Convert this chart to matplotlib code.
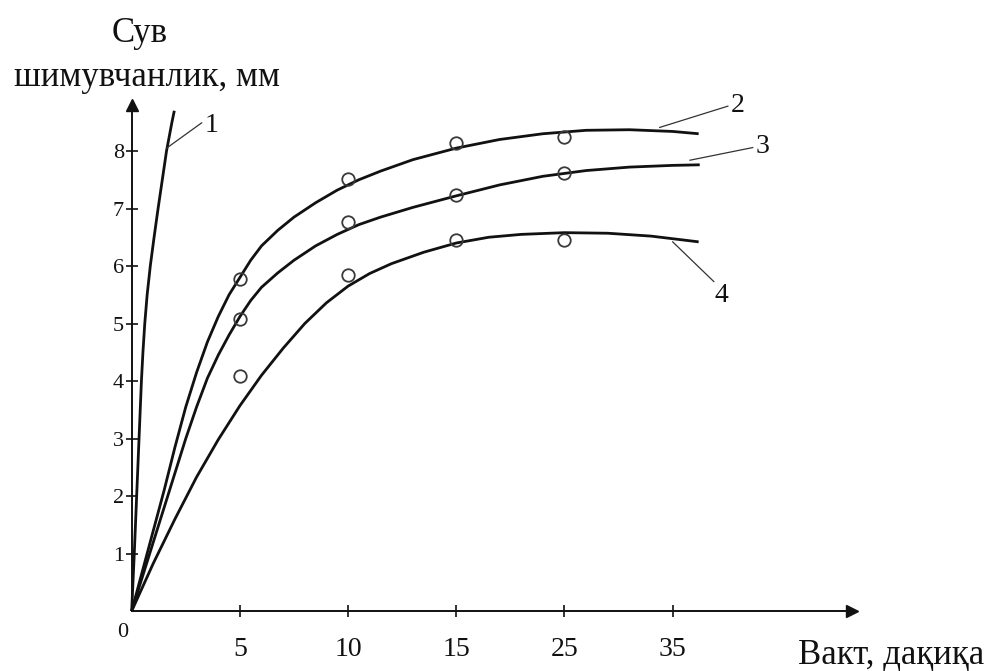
import matplotlib
matplotlib.use('Agg')
import matplotlib.pyplot as plt

plt.rcParams['font.family'] = ['Liberation Serif', 'DejaVu Serif']

# x positions are tick indices (0 = origin), labels are the minutes written under them
x_ticks = [1, 2, 3, 4, 5]
x_labels = ['5', '10', '15', '25', '35']
y_ticks = [1, 2, 3, 4, 5, 6, 7, 8]

# curves
c1_y = [0, 0.5, 1, 1.5, 2, 2.5, 3, 3.5, 4, 4.5, 5, 5.5, 6, 6.5, 7, 7.5, 8, 8.5, 8.7]
c1_x = [0, .012, .024, .035, .046, .057, .068, .079, .09, .104, .121, .143, .172, .207, .244, .283, .322, .372, .394]

c2_x = [0, 0.1, 0.2, 0.3, 0.4, 0.5, 0.6, 0.7, 0.8, 0.9, 1.0, 1.1, 1.2, 1.35, 1.5, 1.7, 1.9,
        2.1, 2.3, 2.6, 3.0, 3.4, 3.8, 4.2, 4.6, 5.0, 5.24]
c2_y = [0, 0.7, 1.4, 2.1, 2.85, 3.55, 4.15, 4.68, 5.12, 5.5, 5.8, 6.1, 6.35, 6.62, 6.85, 7.1, 7.32,
        7.5, 7.65, 7.85, 8.05, 8.2, 8.3, 8.36, 8.37, 8.34, 8.30]

c3_x = [0, 0.1, 0.2, 0.3, 0.4, 0.5, 0.6, 0.7, 0.8, 0.9, 1.0, 1.1, 1.2, 1.35, 1.5, 1.7, 1.9,
        2.1, 2.3, 2.6, 3.0, 3.4, 3.8, 4.2, 4.6, 5.0, 5.25]
c3_y = [0, 0.6, 1.2, 1.8, 2.4, 3.0, 3.55, 4.05, 4.45, 4.8, 5.12, 5.4, 5.63, 5.88, 6.1, 6.35, 6.55,
        6.72, 6.85, 7.02, 7.22, 7.41, 7.56, 7.66, 7.72, 7.75, 7.76]

c4_x = [0, 0.2, 0.4, 0.6, 0.8, 1.0, 1.2, 1.4, 1.6, 1.8, 2.0, 2.2, 2.4, 2.7, 3.0, 3.3, 3.6,
        4.0, 4.4, 4.8, 5.24]
c4_y = [0, 0.83, 1.6, 2.33, 2.98, 3.57, 4.1, 4.57, 5.0, 5.36, 5.65, 5.87, 6.04, 6.24, 6.4, 6.5, 6.55,
        6.58, 6.57, 6.52, 6.42]

# measured points (circles)
pt_x = [1, 2, 3, 4]
pt2 = [5.77, 7.52, 8.14, 8.24]
pt3 = [5.07, 6.77, 7.23, 7.61]
pt4 = [4.09, 5.84, 6.46, 6.45]

ink = '#111111'

fig = plt.figure(figsize=(9.87, 6.71), dpi=100)
ax = fig.add_axes([0, 0, 1, 1])
ax.set_xlim(-1.217, 7.905)
ax.set_ylim(-1.043, 10.626)

# axes through the origin with arrow heads
for s in ['top', 'right']:
    ax.spines[s].set_visible(False)
ax.spines['left'].set_position(('data', 0))
ax.spines['bottom'].set_position(('data', 0))
ax.spines['left'].set_bounds(0, 8.7)
ax.spines['bottom'].set_bounds(0, 6.6)
for s in ['left', 'bottom']:
    ax.spines[s].set_linewidth(1.4)
    ax.spines[s].set_color(ink)
ax.plot([0], [8.8], marker='^', ms=8, color=ink, clip_on=False)
ax.plot([6.66], [0], marker='>', ms=8, color=ink, clip_on=False)

ax.set_xticks(x_ticks, x_labels)
ax.set_yticks(y_ticks, [str(v) for v in y_ticks])
ax.tick_params(axis='x', direction='inout', length=9, width=1.2, colors=ink,
               labelsize=20, pad=14)
ax.tick_params(axis='y', direction='inout', length=9, width=1.2, colors=ink,
               labelsize=16, pad=1)

ax.text(-0.08, -0.38, '0', fontsize=16, ha='center', va='center', color=ink)

for cx, cy in [(c1_x, c1_y), (c2_x, c2_y), (c3_x, c3_y), (c4_x, c4_y)]:
    ax.plot(cx, cy, color=ink, lw=2.0, solid_capstyle='butt', solid_joinstyle='round')

for py in [pt2, pt3, pt4]:
    ax.plot(pt_x, py, ls='none', marker='o', ms=9, mfc='none', mec='#3a3a3a', mew=1.3)

# curve numbers with leader lines
leaders = [((0.323, 8.05), (0.647, 8.49), (0.74, 8.45), '1'),
           ((4.88, 8.41), (5.51, 8.78), (5.60, 8.80), '2'),
           ((5.16, 7.84), (5.74, 8.06), (5.83, 8.08), '3'),
           ((5.00, 6.42), (5.38, 5.73), (5.45, 5.48), '4')]
for (x0, y0), (x1, y1), (tx, ty), lab in leaders:
    ax.plot([x0, x1], [y0, y1], color='#333333', lw=0.9)
    ax.text(tx, ty, lab, fontsize=20, ha='center', va='center', color=ink)

ax.text(0.077, 10.05, 'Сув', fontsize=25, ha='center', va='center', color=ink)
ax.text(0.139, 9.27, 'шимувчанлик, мм', fontsize=25, ha='center', va='center', color=ink)
ax.text(7.88, -0.77, 'Вакт, дақиқа', fontsize=25, ha='right', va='center', color=ink)

fig.savefig('out.png', dpi=100, facecolor='white')
